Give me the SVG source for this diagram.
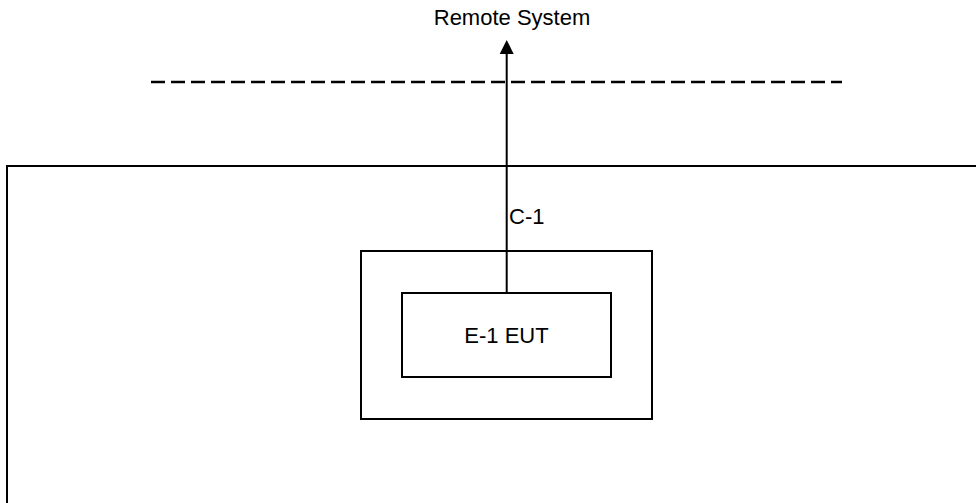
<svg xmlns="http://www.w3.org/2000/svg" width="976" height="503" viewBox="0 0 976 503">
<style>
.box{fill:none;stroke:#000;stroke-width:2}
.lbl{font-family:"Liberation Sans",Arial,sans-serif;font-size:22px;fill:#000}
.conn{stroke:#000;stroke-width:2;fill:none}
</style>
<defs>
<marker id="arr" markerWidth="14" markerHeight="14" refX="7" refY="0" viewBox="0 0 14 14" orient="auto" markerUnits="userSpaceOnUse">
<path d="M0,14 L7,0 L14,14 Z" fill="#000"/>
</marker>
</defs>
<rect width="976" height="503" fill="#fff"/>
<g id="boundary">
<line x1="151" y1="82" x2="842" y2="82" stroke="#000" stroke-width="2.5" stroke-dasharray="14 6"/>
</g>
<g id="site">
<rect class="box" x="7" y="166" width="990" height="360"/>
</g>
<g id="enclosure">
<rect class="box" x="361" y="251" width="291" height="168"/>
</g>
<g id="eut">
<rect class="box" x="402" y="293" width="209" height="84"/>
<text class="lbl" x="506.5" y="343" text-anchor="middle">E-1 EUT</text>
</g>
<g id="remote">
<text class="lbl" x="512" y="25" text-anchor="middle">Remote System</text>
</g>
<g id="connectors">
<line class="conn" x1="506.7" y1="293" x2="506.7" y2="54"/>
<path d="M499.7,54 L506.7,40 L513.7,54 Z" fill="#000"/>
<text class="lbl" x="509" y="224">C-1</text>
</g>
</svg>
